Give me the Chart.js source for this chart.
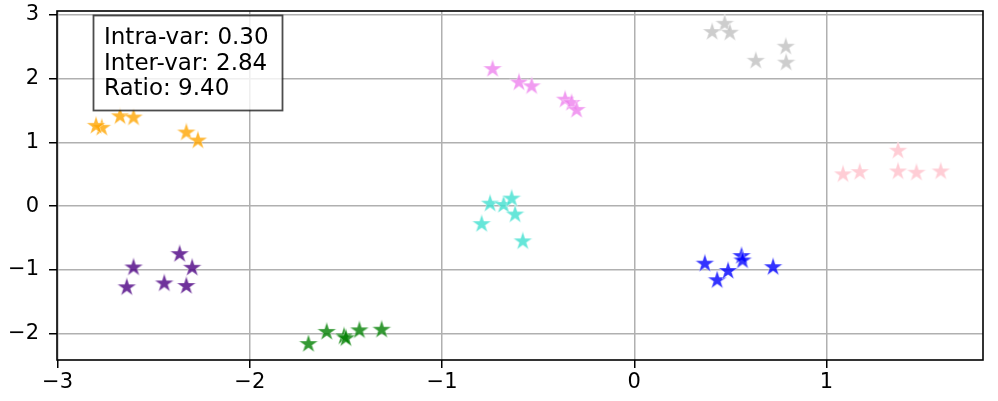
<!DOCTYPE html>
<html><head><meta charset="utf-8">
<script src="https://cdn.jsdelivr.net/npm/chart.js@4.4.0/dist/chart.umd.min.js"></script>
<style>html,body{margin:0;padding:0;background:#fff}#wrap{width:998px;height:401px}</style>
</head><body><div id="wrap"><canvas id="c" width="998" height="401"></canvas></div>
<script>
// ---- data ----
const orangeX = [-2.77, -2.80, -2.675, -2.605, -2.33, -2.27];
const orangeY = [1.23, 1.26, 1.41, 1.39, 1.155, 1.03];
const purpleX = [-2.605, -2.365, -2.30, -2.64, -2.445, -2.33];
const purpleY = [-0.96, -0.75, -0.965, -1.27, -1.21, -1.25];
const greenX = [-1.695, -1.60, -1.51, -1.50, -1.43, -1.314];
const greenY = [-2.16, -1.97, -2.04, -2.07, -1.945, -1.935];
const violetX = [-0.737, -0.60, -0.534, -0.36, -0.326, -0.30];
const violetY = [2.15, 1.94, 1.88, 1.67, 1.62, 1.51];
const turquoiseX = [-0.75, -0.68, -0.638, -0.62, -0.794, -0.58];
const turquoiseY = [0.04, 0.02, 0.12, -0.13, -0.28, -0.55];
const silverX = [0.405, 0.47, 0.497, 0.632, 0.788, 0.79];
const silverY = [2.73, 2.86, 2.72, 2.28, 2.50, 2.25];
const pinkX = [1.086, 1.173, 1.372, 1.372, 1.468, 1.594];
const pinkY = [0.50, 0.535, 0.87, 0.545, 0.525, 0.545];
const blueX = [0.367, 0.431, 0.488, 0.558, 0.563, 0.722];
const blueY = [-0.90, -1.16, -1.015, -0.78, -0.85, -0.955];
const xTicks = [-3, -2, -1, 0, 1];
const yTicks = [-2, -1, 0, 1, 2, 3];
const statLines = ["Intra-var: 0.30", "Inter-var: 2.84", "Ratio: 9.40"];

const clusters = [
  [orangeX, orangeY, '#FFA500'],
  [purpleX, purpleY, '#4B0082'],
  [greenX, greenY, '#008000'],
  [violetX, violetY, '#EE82EE'],
  [turquoiseX, turquoiseY, '#40E0D0'],
  [silverX, silverY, '#C0C0C0'],
  [pinkX, pinkY, '#FFC0CB'],
  [blueX, blueY, '#0000FF']
];

function starImage(color) {
  const R = 10, S = 24;
  const cv = document.createElement('canvas');
  cv.width = S; cv.height = S;
  const g = cv.getContext('2d');
  const cx = S / 2, cy = S / 2;
  const r = R * 0.381966;
  g.beginPath();
  for (let i = 0; i < 10; i++) {
    const ang = -Math.PI / 2 + i * Math.PI / 5;
    const rad = i % 2 === 0 ? R : r;
    const px = cx + rad * Math.cos(ang), py = cy + rad * Math.sin(ang);
    if (i === 0) g.moveTo(px, py); else g.lineTo(px, py);
  }
  g.closePath();
  g.globalAlpha = 0.8;
  g.fillStyle = color;
  g.fill();
  g.lineWidth = 0.5;
  g.strokeStyle = '#ffffff';
  g.stroke();
  return cv;
}

const datasets = clusters.map(([xs, ys, col]) => ({
  data: xs.map((x, i) => ({ x: x, y: ys[i] })),
  pointStyle: starImage(col),
  pointRadius: 10,
  pointHoverRadius: 10
}));

const frame = {
  id: 'frame',
  afterDatasetsDraw(chart) {
    const a = chart.chartArea, ctx = chart.ctx;
    ctx.save();
    const bx = 93.5, by = 15.5, bw = 189, bh = 95;
    ctx.fillStyle = 'rgba(255,255,255,0.8)';
    ctx.fillRect(bx, by, bw, bh);
    ctx.strokeStyle = 'rgba(0,0,0,0.7)';
    ctx.lineWidth = 1.8;
    ctx.strokeRect(bx, by, bw, bh);
    ctx.fillStyle = '#000';
    ctx.font = '23px "DejaVu Sans"';
    ctx.textBaseline = 'alphabetic';
    statLines.forEach((t, i) => ctx.fillText(t, 104, 44 + i * 25.5));
    ctx.strokeStyle = '#000';
    ctx.lineWidth = 1.6;
    ctx.strokeRect(a.left, a.top, a.right - a.left, a.bottom - a.top);
    ctx.restore();
  }
};

new Chart(document.getElementById('c'), {
  type: 'scatter',
  data: { datasets },
  options: {
    responsive: false,
    animation: false,
    events: [],
    layout: { padding: { top: 7, right: 15, left: 0, bottom: 0 } },
    plugins: { legend: { display: false }, tooltip: { enabled: false } },
    scales: {
      x: {
        type: 'linear', min: -3.003, max: 1.814,
        afterBuildTicks: s => { s.ticks = xTicks.map(v => ({ value: v })); },
        afterFit: s => { s.height = 41; s.paddingLeft = 0; s.paddingRight = 0; },
        border: { display: false },
        grid: { color: '#b0b0b0', lineWidth: 1.5, tickColor: '#000', tickLength: 8, tickWidth: 1.5 },
        ticks: { color: '#000', font: { family: 'DejaVu Sans', size: 21 }, padding: 2, maxRotation: 0,
          callback: v => String(v).replace('-', '\u2212') }
      },
      y: {
        type: 'linear', min: -2.41, max: 3.06,
        afterBuildTicks: s => { s.ticks = yTicks.map(v => ({ value: v })); },
        afterFit: s => { s.width = 57; s.paddingTop = 0; s.paddingBottom = 0; },
        border: { display: false },
        grid: { color: '#b0b0b0', lineWidth: 1.5, tickColor: '#000', tickLength: 8, tickWidth: 1.5 },
        ticks: { color: '#000', font: { family: 'DejaVu Sans', size: 21 }, padding: 10,
          callback: v => String(v).replace('-', '\u2212') }
      }
    }
  },
  plugins: [frame]
});
</script></body></html>
